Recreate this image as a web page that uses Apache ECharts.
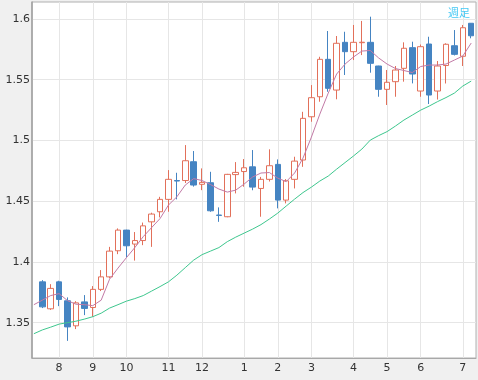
<!DOCTYPE html>
<html><head><meta charset="utf-8">
<script src="https://cdn.jsdelivr.net/npm/echarts@6/dist/echarts.min.js"></script>
<style>html,body{margin:0;padding:0;background:#f0f0f0}#c{width:478px;height:380px}</style>
</head><body><div id="c"></div>
<script>
// Weekly candles: [open, close, low, high]
const candles = [
[1.3836,1.3630,1.3620,1.3850],
[1.3614,1.3782,1.3605,1.3817],
[1.3836,1.3691,1.3636,1.3845],
[1.3680,1.3465,1.3350,1.3708],
[1.3474,1.3663,1.3447,1.3677],
[1.3671,1.3617,1.3562,1.3727],
[1.3625,1.3774,1.3548,1.3801],
[1.3774,1.3877,1.3760,1.3933],
[1.3877,1.4089,1.3865,1.4124],
[1.4092,1.4262,1.4064,1.4276],
[1.4262,1.4133,1.4037,1.4265],
[1.4147,1.4176,1.4011,1.4246],
[1.4176,1.4297,1.4138,1.4324],
[1.4330,1.4394,1.4124,1.4405],
[1.4413,1.4515,1.4367,1.4536],
[1.4515,1.4680,1.4413,1.4756],
[1.4670,1.4666,1.4515,1.4734],
[1.4670,1.4833,1.4650,1.4962],
[1.4825,1.4633,1.4620,1.4913],
[1.4639,1.4655,1.4591,1.4770],
[1.4652,1.4421,1.4413,1.4742],
[1.4386,1.4383,1.4330,1.4449],
[1.4372,1.4721,1.4368,1.4725],
[1.4719,1.4737,1.4564,1.4822],
[1.4744,1.4775,1.4619,1.4847],
[1.4783,1.4616,1.4590,1.4921],
[1.4605,1.4680,1.4372,1.4700],
[1.4680,1.4792,1.4662,1.4927],
[1.4803,1.4509,1.4441,1.4844],
[1.4509,1.4668,1.4482,1.4682],
[1.4680,1.4830,1.4605,1.4866],
[1.4839,1.5182,1.4783,1.5236],
[1.5195,1.5352,1.5154,1.5456],
[1.5360,1.5668,1.5319,1.5689],
[1.5668,1.5429,1.5401,1.5901],
[1.5415,1.5800,1.5339,1.5860],
[1.5808,1.5731,1.5539,1.5895],
[1.5731,1.5808,1.5662,1.5951],
[1.5805,1.5809,1.5703,1.5984],
[1.5808,1.5635,1.5558,1.6019],
[1.5613,1.5421,1.5360,1.5615],
[1.5421,1.5479,1.5292,1.5580],
[1.5484,1.5580,1.5360,1.5613],
[1.5594,1.5759,1.5484,1.5808],
[1.5764,1.5547,1.5470,1.5813],
[1.5407,1.5772,1.5360,1.5790],
[1.5794,1.5374,1.5300,1.5854],
[1.5407,1.5613,1.5337,1.5654],
[1.5617,1.5792,1.5469,1.5800],
[1.5780,1.5709,1.5700,1.5909],
[1.5693,1.5928,1.5613,1.5951],
[1.5965,1.5862,1.5841,1.5967]
];
// moving averages, starting one week before the first visible candle (week index -1)
const maShort = [1.3648,1.3685,1.3723,1.3739,1.3681,1.3652,1.3648,1.3640,1.3685,1.3858,1.3949,1.4035,1.4118,1.4208,1.4283,1.4357,1.4468,1.4536,1.4633,1.4686,1.4670,1.4637,1.4600,1.4575,1.4591,1.4641,1.4699,1.4732,1.4736,1.4690,1.4661,1.4732,1.4855,1.5028,1.5217,1.5390,1.5547,1.5629,1.5687,1.5736,1.5741,1.5679,1.5629,1.5592,1.5576,1.5559,1.5609,1.5621,1.5621,1.5629,1.5662,1.5695,1.5802];
const maLong = [1.3409,1.3440,1.3463,1.3488,1.3500,1.3512,1.3529,1.3549,1.3578,1.3620,1.3648,1.3677,1.3698,1.3723,1.3760,1.3797,1.3836,1.3891,1.3953,1.4015,1.4060,1.4089,1.4118,1.4167,1.4204,1.4237,1.4270,1.4307,1.4353,1.4402,1.4460,1.4517,1.4571,1.4616,1.4666,1.4707,1.4764,1.4818,1.4872,1.4929,1.5003,1.5040,1.5073,1.5119,1.5168,1.5209,1.5250,1.5283,1.5320,1.5353,1.5390,1.5448,1.5489];
const monthLabels = ['8','9','10','11','12','1','2','3','4','5','6','7'];
const monthWeekIdx = [2,6,10,15,19,24,28,32,37,41,45,50];
const yTicks = [1.35,1.4,1.45,1.5,1.55,1.6];
const periodLabel = '週足';

const candleData = candles.map((c,i)=>[i,c[0],c[1],c[2],c[3]]);
const shortData = maShort.map((v,i)=>[i-1,v]);
const longData = maLong.map((v,i)=>[i-1,v]);
const font = 'DejaVu Sans';

const chart = echarts.init(document.getElementById('c'));
chart.setOption({
  animation:false,
  backgroundColor:'#f0f0f0',
  title:{text:periodLabel,right:3,top:2,textStyle:{fontSize:11,fontWeight:'normal',color:'#44c8f4',fontFamily:'Noto Sans CJK JP'}},
  grid:{left:32,right:2,top:2,bottom:22,show:true,backgroundColor:'#ffffff',borderColor:'#b0b0b0',borderWidth:1},
  xAxis:{type:'value',min:-1.225,max:51.57,
    axisLine:{show:true,onZero:false,lineStyle:{color:'#a8a8a8'}},
    axisTick:{show:false,customValues:monthWeekIdx},
    axisLabel:{customValues:monthWeekIdx,margin:5,color:'#333',fontSize:11,fontFamily:font,
      formatter:v=>monthLabels[monthWeekIdx.indexOf(v)]},
    splitLine:{show:true,lineStyle:{color:'#e6e6e6',width:1}}},
  yAxis:{type:'value',min:1.3209,max:1.614,
    axisLine:{show:true,onZero:false,lineStyle:{color:'#a0a0a0',width:1.5}},
    axisTick:{show:false,customValues:yTicks},
    axisLabel:{customValues:yTicks,margin:2,color:'#333',fontSize:11,fontFamily:font},
    splitLine:{show:true,lineStyle:{color:'#e6e6e6',width:1}}},
  series:[
    {type:'candlestick',data:candleData,barWidth:6,
      itemStyle:{color:'#ffffff',borderColor:'#e2705a',color0:'#4584c2',borderColor0:'#4584c2',borderWidth:1}},
    {type:'line',data:shortData,symbol:'none',lineStyle:{color:'#c27aa6',width:1},z:3},
    {type:'line',data:longData,symbol:'none',lineStyle:{color:'#3ec78e',width:1},z:3}
  ]
});
</script></body></html>
